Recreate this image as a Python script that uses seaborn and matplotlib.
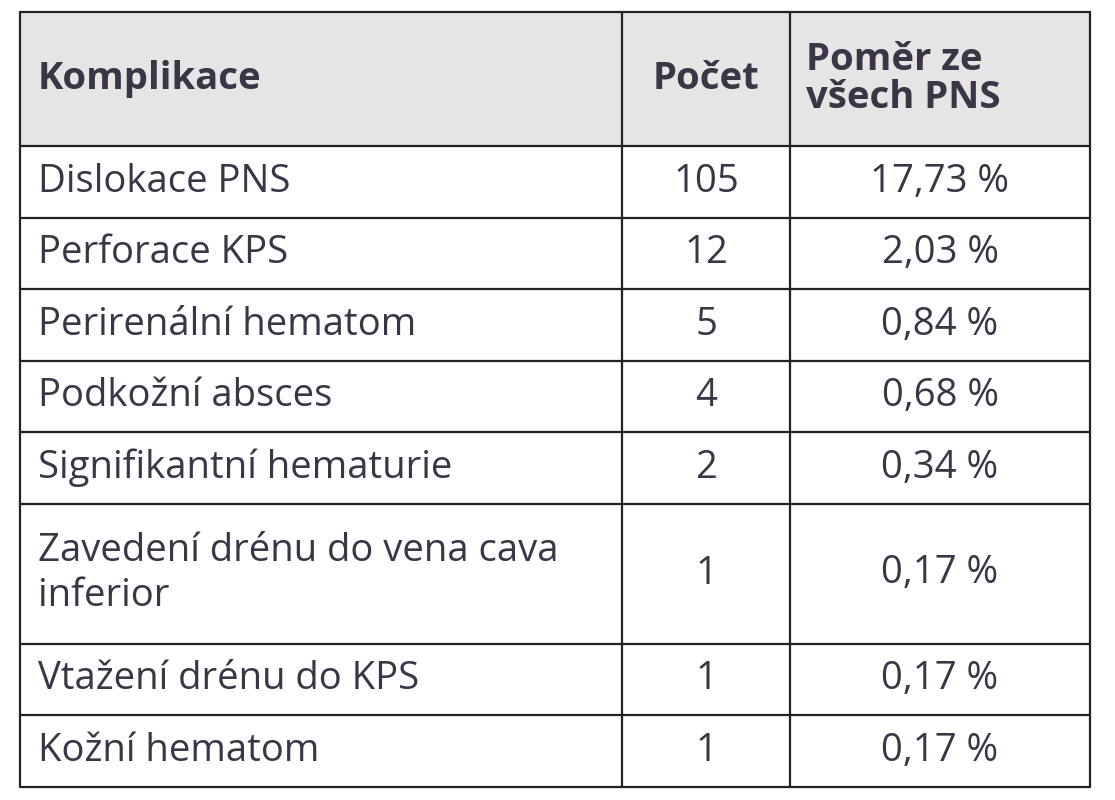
import matplotlib
matplotlib.use("Agg")
import matplotlib.pyplot as plt
import seaborn as sns
from matplotlib.patches import Rectangle

sns.set_style("white")
plt.rcParams['font.family'] = ['Open Sans', 'DejaVu Sans']

headers = ["Komplikace", "Počet", "Poměr ze\nvšech PNS"]
komplikace = ["Dislokace PNS", "Perforace KPS", "Perirenální hematom", "Podkožní absces",
              "Signifikantní hematurie", "Zavedení drénu do vena cava\ninferior",
              "Vtažení drénu do KPS", "Kožní hematom"]
pocet = ["105", "12", "5", "4", "2", "1", "1", "1"]
pomer = ["17,73 %", "2,03 %", "0,84 %", "0,68 %", "0,34 %", "0,17 %", "0,17 %", "0,17 %"]
row_lines = [1, 1, 1, 1, 1, 2, 1, 1]

W, H = 1115, 800
fig = plt.figure(figsize=(W/100, H/100), dpi=100)
ax = fig.add_axes([0, 0, 1, 1])
ax.set_xlim(0, W); ax.set_ylim(H, 0); ax.axis('off')

x0, x1, x2, x3 = 20, 622, 790, 1090
top, head_bot = 12, 146
unit = 71.5
txt = '#3b3546'
lc = '#222222'
lw = 1.6

ax.add_patch(Rectangle((x0, top), x3-x0, head_bot-top, facecolor='#e5e5e6', edgecolor='none'))
fs = 27.5
hy = (top+head_bot)/2
ax.text(38, hy, headers[0], fontsize=fs, fontweight='bold', color=txt, va='center')
ax.text((x1+x2)/2, hy, headers[1], fontsize=fs, fontweight='bold', color=txt, va='center', ha='center')
ax.text(806, hy, headers[2], fontsize=fs, fontweight='bold', color=txt, va='center', linespacing=1.0)

ys = [top, head_bot]
y = head_bot
for i, name in enumerate(komplikace):
    h = unit * row_lines[i] if row_lines[i] == 1 else 140
    cy = y + h/2
    ax.text(38, cy, name, fontsize=fs, color=txt, va='center', linespacing=1.25)
    ax.text((x1+x2)/2, cy, pocet[i], fontsize=fs, color=txt, va='center', ha='center')
    ax.text((x2+x3)/2, cy, pomer[i], fontsize=fs, color=txt, va='center', ha='center')
    y += h
    ys.append(y)

for yy in ys:
    ax.plot([x0, x3], [yy, yy], color=lc, lw=lw)
for xx in [x0, x1, x2, x3]:
    ax.plot([xx, xx], [top, ys[-1]], color=lc, lw=lw)

fig.savefig("out.png", dpi=100)
